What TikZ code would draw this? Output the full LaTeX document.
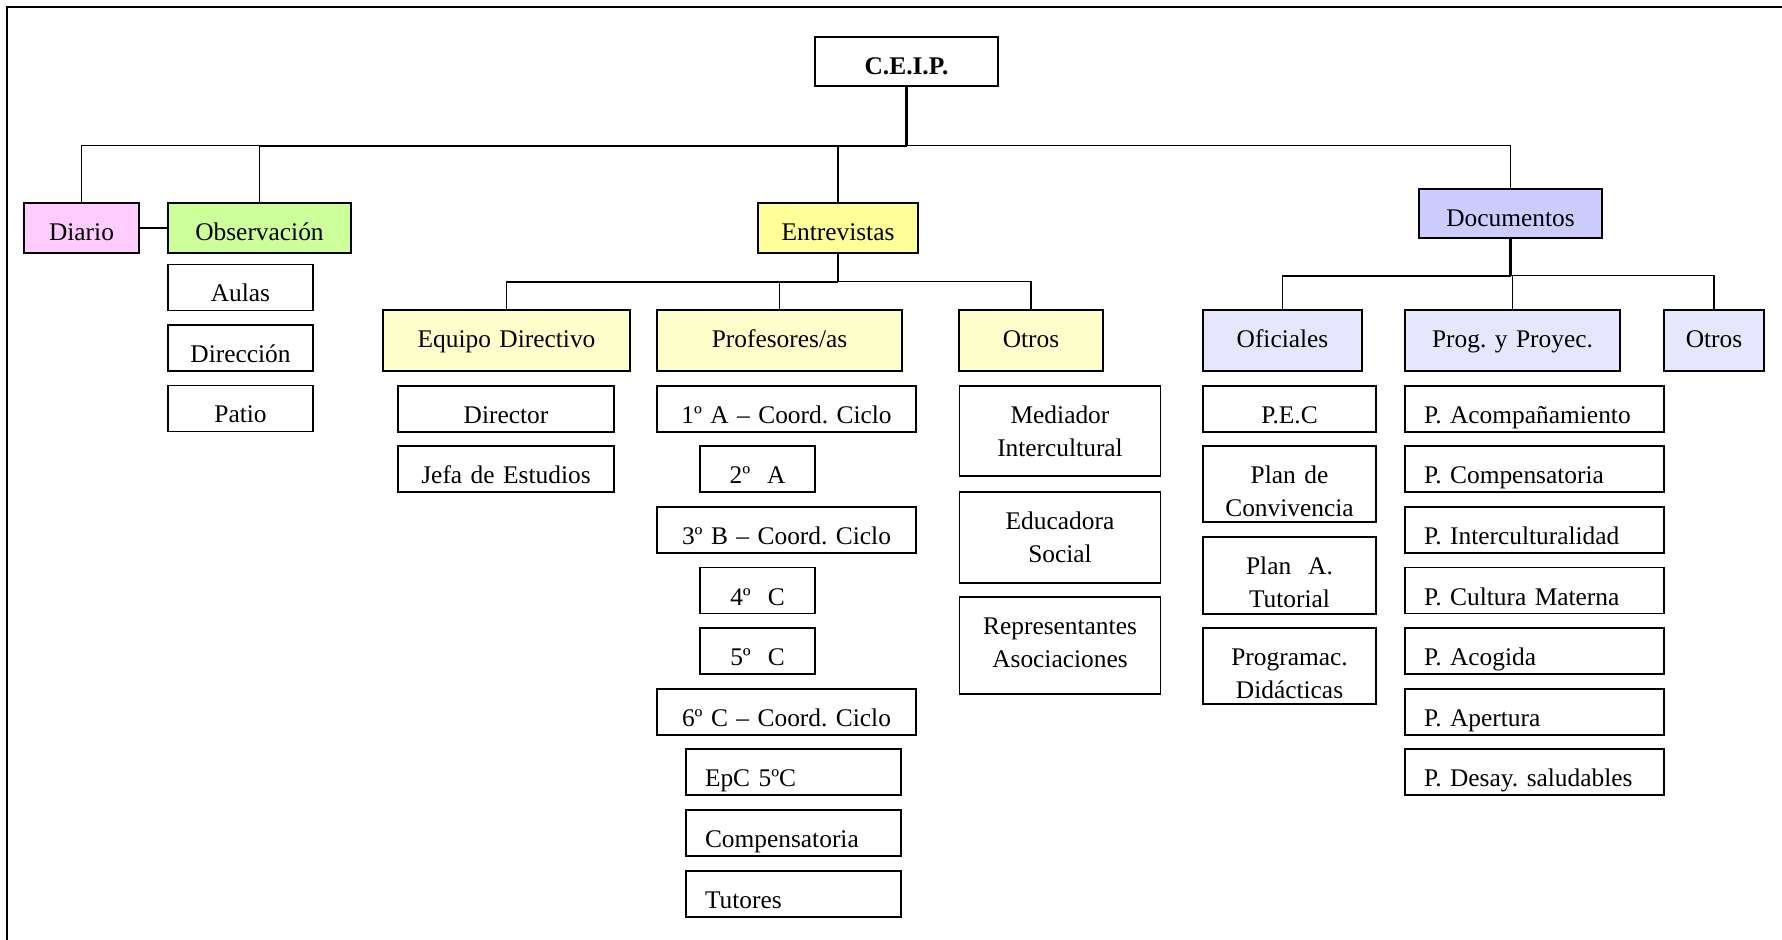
\documentclass[tikz,border=0pt]{standalone}
\usepackage{fontspec}
\setmainfont{Liberation Serif}
\usepackage{tikz}
\usetikzlibrary{positioning}
\definecolor{diariofill}{HTML}{FFCCFF}
\definecolor{obsfill}{HTML}{CCFF99}
\definecolor{entrfill}{HTML}{FFFF99}
\definecolor{docsfill}{HTML}{CCCCFF}
\definecolor{subyellow}{HTML}{FFFFCC}
\definecolor{sublav}{HTML}{E6E6FF}
\newcommand{\orgfont}{\fontsize{12.7}{16.7}\selectfont\frenchspacing}
\tikzset{
  box/.code 2 args={\pgfmathsetmacro\bxw{#1*0.5}\pgfmathsetmacro\bxd{#2*0.5-18.75}%
    \edef\bxset{\noexpand\tikzset{text width=\bxw pt, text depth=\bxd pt}}\bxset
    \tikzset{draw, line width=0.65pt, inner sep=0pt, text height=18.75pt, align=center, font=\orgfont}},
  lbox/.code 2 args={\pgfmathsetmacro\bxw{(#1-38)*0.5}\pgfmathsetmacro\bxd{#2*0.5-18.75}%
    \edef\bxset{\noexpand\tikzset{text width=\bxw pt, text depth=\bxd pt}}\bxset
    \tikzset{draw, line width=0.65pt, inner xsep=9.5pt, inner ysep=0pt, text height=18.75pt, align=left, font=\orgfont}},
  conn/.style={line width=0.7pt},
  trunk/.style={line width=1.1pt}
}

\begin{document}
\frenchspacing
\begin{tikzpicture}[x=0.5pt,y=-0.5pt]
\useasboundingbox (0,0) rectangle (1782,940);
\draw[line width=1pt] (7,940) -- (7,7) -- (1782,7);	% frame
% top level
\node[box={183}{49}, font=\orgfont\bfseries] (ceip) at (906.5,61.5) {C.E.I.P.};
\node[box={115}{50}, fill=diariofill] (diario) at (81.5,228) {Diario};
\node[box={183}{50}, fill=obsfill] (obs) at (259.5,228) {Observación};
\node[box={160}{50}, fill=entrfill] (entr) at (838,228) {Entrevistas};
\node[box={183}{49}, fill=docsfill] (docs) at (1510.5,213.5) {Documentos};
% observacion
\foreach \n/\y/\t in {aulas/287.5/Aulas, direccion/348/Dirección, patio/408.5/Patio}
  \node[box={145}{46}] (\n) at (240.5,\y) {\t};
% entrevistas
\node[box={247}{61}, fill=subyellow] (equipo) at (506.5,340.5) {Equipo Directivo};
\node[box={245}{61}, fill=subyellow] (prof) at (779.5,340.5) {Profesores/as};
\node[box={144}{61}, fill=subyellow] (otrosE) at (1031,340.5) {Otros};
\foreach \n/\y/\t in {director/409/Director, jefa/469/Jefa de Estudios}
  \node[box={216}{46}] (\n) at (506,\y) {\t};
\foreach \n/\x/\y/\w/\t in {p1/786.5/409/259/1º A – Coord. Ciclo, p2/757.5/469/115/2º\ \ A,
    p3/786.5/530/259/3º B – Coord. Ciclo, p4/757.5/590.5/115/4º\ \ C, p5/757.5/651/115/5º\ \ C,
    p6/786.5/712/259/6º C – Coord. Ciclo}
  \node[box={\w}{46}] (\n) at (\x,\y) {\t};
\foreach \n/\y/\t in {epc/772/EpC 5ºC, comp/833/Compensatoria, tut/894/Tutores}
  \node[lbox={215}{46}] (\n) at (793.5,\y) {\t};
\node[box={201}{90}] (mediador) at (1060,431) {Mediador\\Intercultural};
\node[box={201}{91}] (educadora) at (1060,537.5) {Educadora\\Social};
\node[box={201}{97}] (repres) at (1060,645.5) {Representantes\\Asociaciones};
% documentos
\node[box={159}{61}, fill=sublav] (oficiales) at (1282.5,340.5) {Oficiales};
\node[box={215}{61}, fill=sublav] (prog) at (1512.5,340.5) {Prog. y Proyec.};
\node[box={100}{61}, fill=sublav] (otrosD) at (1714,340.5) {Otros};
\node[box={173}{46}] (pec) at (1289.5,409) {P.E.C};
\node[box={173}{76}] (conviv) at (1289.5,484) {Plan de\\Convivencia};
\node[box={173}{77}] (tutorial) at (1289.5,575.5) {Plan\ \ A.\\Tutorial};
\node[box={173}{76}] (programac) at (1289.5,666) {Programac.\\Didácticas};
\foreach \n/\y/\t in {pacomp/409/P. Acompañamiento, pcomp/469/P. Compensatoria,
    pinter/530/P. Interculturalidad, pcult/590.5/P. Cultura Materna, pacog/651/P. Acogida,
    paper/712/P. Apertura, pdesay/772/P. Desay. saludables}
  \node[lbox={259}{46}] (\n) at (1534.5,\y) {\t};
% connectors
\draw[trunk] (ceip.south) -- ++(0,59) coordinate (bus);
\foreach \n in {diario, obs, entr, docs} \draw[conn] (\n.north) |- (bus);
\draw[trunk] (obs.north |- bus) -- (bus);
\draw[conn] (diario) -- (obs);
\draw[trunk] (entr.south) -- ++(0,28) coordinate (busE);
\foreach \n in {equipo, prof, otrosE} \draw[conn] (\n.north) |- (busE);
\draw[trunk] (equipo.north |- busE) -- (busE);
\draw[trunk] (docs.south) -- ++(0,37) coordinate (busD);
\foreach \n in {oficiales, prog, otrosD} \draw[conn] (\n.north) |- (busD);
\draw[trunk] (oficiales.north |- busD) -- (busD);
\end{tikzpicture}
\end{document}
